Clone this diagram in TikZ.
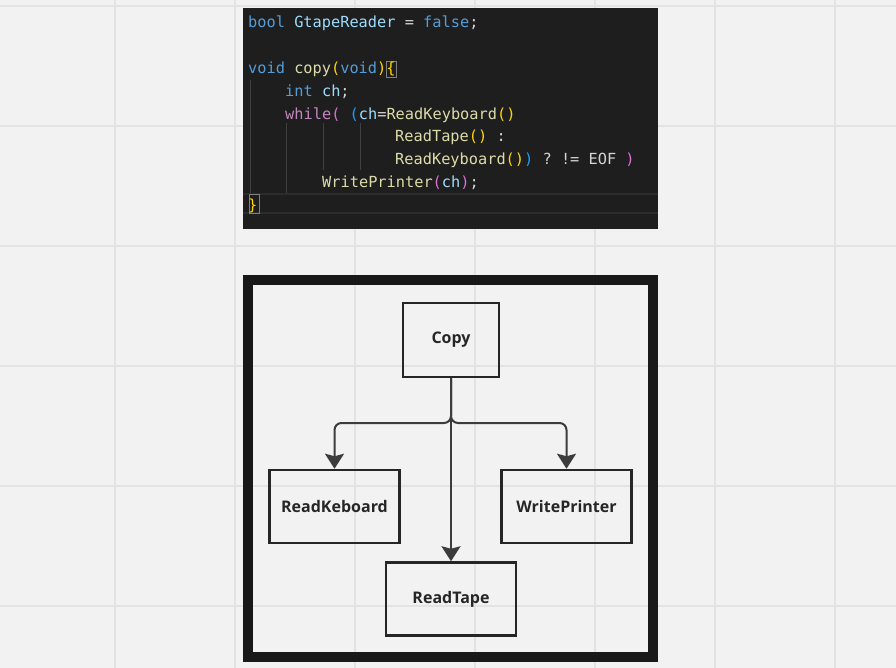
\documentclass[tikz,border=0pt]{standalone}
\usepackage{fontspec}
\setmonofont{DejaVu Sans Mono}
\newfontfamily\boxfont{Open Sans}
\usetikzlibrary{arrows.meta}

% editor colours
\definecolor{paper}{HTML}{F2F2F2}
\definecolor{gridline}{HTML}{E3E3E3}
\definecolor{editorbg}{HTML}{1E1E1E}
\definecolor{curline}{HTML}{2C2C2C}
\definecolor{guide}{HTML}{404040}
\definecolor{kw}{HTML}{569CD6}
\definecolor{fn}{HTML}{DCDCAA}
\definecolor{var}{HTML}{9CDCFE}
\definecolor{ctl}{HTML}{C586C0}
\definecolor{txt}{HTML}{D4D4D4}
\definecolor{brA}{HTML}{FFD700}
\definecolor{brB}{HTML}{DA70D6}
\definecolor{brC}{HTML}{179FFF}
\definecolor{ink}{HTML}{262626}

\newcommand\codecol[1]{\the\numexpr 248+#1*92/10\relax}

\begin{document}
\begin{tikzpicture}[x=1pt, y=-1pt,
    codeline/.style={anchor=base west, inner sep=0pt, font=\ttfamily\fontsize{15.3}{23}\selectfont, text=txt},
    module/.style={draw=ink, line width=2.5pt, fill=none, inner sep=0pt,
      minimum width=130pt, minimum height=73pt, font=\boxfont\bfseries\fontsize{16}{19}\selectfont, text=ink},
    link/.style={draw=ink!90, line width=2pt, -{Stealth[length=15pt, width=19pt, inset=2.5pt]}}]

    % Background with grid
    \fill [paper] (0,0) rectangle (896,668);
    \useasboundingbox (0,0) rectangle (896,668);
    \foreach \gx in {115, 235, ..., 835}
      \draw [gridline, line width=1.5pt] (\gx,0) -- (\gx,668);
    \foreach \gy in {6, 126, ..., 606}
      \draw [gridline, line width=1.5pt] (0,\gy) -- (896,\gy);

    % Editor panel
    \fill [editorbg] (243,8) rectangle (658,229);
    \draw [curline, line width=1.5pt] (243,194) -- (658,194) (243,213) -- (658,213);

    % Indent guides
    \draw [guide, line width=1pt] (250,80) -- (250,193);
    \draw [guide, line width=1pt] (286,123) -- (286,193);
    \draw [guide, line width=1pt] (323,123) -- (323,170);
    \draw [guide, line width=1pt] (360,123) -- (360,170);

    % Matching braces
    \draw [gray, line width=1pt] (386.5,61.5) rectangle (396.5,78);
    \draw [gray, line width=1pt] (249,195) rectangle (259,214);

    % Source lines (baseline every 22.9pt)
    \node [codeline] (l1) at (\codecol{0},27.5)
      {\textcolor{kw}{bool} \textcolor{var}{GtapeReader} = \textcolor{kw}{false};};
    \node [codeline] (l3) at (\codecol{0},73.3)
      {\textcolor{kw}{void} \textcolor{fn}{copy}\textcolor{brA}{(}\textcolor{kw}{void}\textcolor{brA}{)\{}};
    \node [codeline] (l4) at (\codecol{4},96.2)
      {\textcolor{kw}{int} \textcolor{var}{ch};};
    \node [codeline] (l5) at (\codecol{4},119.1)
      {\textcolor{ctl}{while}\textcolor{brB}{(} \textcolor{brC}{(}\textcolor{var}{ch}=\textcolor{fn}{ReadKeyboard}\textcolor{brA}{()}};
    \node [codeline] (l6) at (\codecol{16},142.0)
      {\textcolor{fn}{ReadTape}\textcolor{brA}{()} :};
    \node [codeline] (l7) at (\codecol{16},164.9)
      {\textcolor{fn}{ReadKeyboard}\textcolor{brA}{()}\textcolor{brC}{)} ? != EOF \textcolor{brB}{)}};
    \node [codeline] (l8) at (\codecol{8},187.8)
      {\textcolor{fn}{WritePrinter}\textcolor{brB}{(}\textcolor{var}{ch}\textcolor{brB}{)};};
    \node [codeline] (l9) at (\codecol{0},210.7)
      {\textcolor{brA}{\}}};

    % Structure chart
    \draw [black!90, line width=10pt] (248,280) rectangle (653,657);

    \node [module, minimum width=96pt, minimum height=74pt] (copy) at (451,340) {Copy};
    \node [module] (keyboard) at (334.5,506.5) {ReadKeboard};
    \node [module] (printer) at (566.5,506.5) {WritePrinter};
    \node [module] (tape) at (451,599) {ReadTape};

    \coordinate (split) at (451,423);
    \draw [link] (copy.south) -- (tape.north);
    \draw [link, rounded corners=7pt] (copy.south) -- (split) -| (keyboard.north);
    \draw [link, rounded corners=7pt] (copy.south) -- (split) -| (printer.north);

\end{tikzpicture}
\end{document}
